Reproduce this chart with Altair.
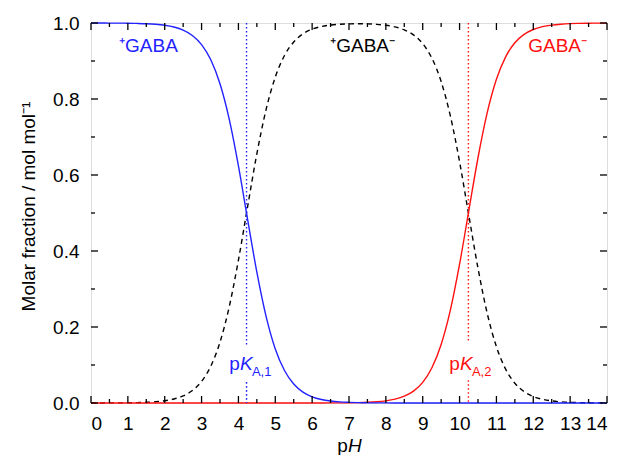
import altair as alt
import pandas as pd

# ---------------- data ----------------
ph = [0.0, 0.25, 0.5, 0.75, 1.0, 1.25, 1.5, 1.75, 2.0, 2.25, 2.5, 2.75, 3.0, 3.25,
      3.5, 3.75, 4.0, 4.25, 4.5, 4.75, 5.0, 5.25, 5.5, 5.75, 6.0, 6.25, 6.5, 6.75,
      7.0, 7.25, 7.5, 7.75, 8.0, 8.25, 8.5, 8.75, 9.0, 9.25, 9.5, 9.75, 10.0, 10.25,
      10.5, 10.75, 11.0, 11.25, 11.5, 11.75, 12.0, 12.25, 12.5, 12.75, 13.0, 13.25,
      13.5, 13.75, 14.0]

cation = [0.9999, 0.9999, 0.9998, 0.9997, 0.9994, 0.9989, 0.9981, 0.9966, 0.9940,
          0.9894, 0.9813, 0.9672, 0.9431, 0.9032, 0.8400, 0.7470, 0.6240, 0.4827,
          0.3442, 0.2279, 0.1423, 0.0854, 0.0499, 0.0287, 0.0163, 0.0092, 0.0052,
          0.0029, 0.0017, 0.0009, 0.0005, 0.0003, 0.0002, 0.0001, 0.0, 0.0, 0.0,
          0.0, 0.0, 0.0, 0.0, 0.0, 0.0, 0.0, 0.0, 0.0, 0.0, 0.0, 0.0, 0.0, 0.0,
          0.0, 0.0, 0.0, 0.0, 0.0, 0.0]

zwitterion = [0.0001, 0.0001, 0.0002, 0.0003, 0.0006, 0.0011, 0.0019, 0.0034, 0.0060,
              0.0106, 0.0187, 0.0328, 0.0569, 0.0968, 0.1600, 0.2530, 0.3760, 0.5173,
              0.6558, 0.7721, 0.8577, 0.9146, 0.9501, 0.9713, 0.9837, 0.9907, 0.9946,
              0.9968, 0.9977, 0.9981, 0.9977, 0.9965, 0.9941, 0.9898, 0.9821, 0.9687,
              0.9456, 0.9072, 0.8460, 0.7555, 0.6348, 0.4942, 0.3546, 0.2360, 0.1481,
              0.0891, 0.0521, 0.0300, 0.0171, 0.0097, 0.0055, 0.0031, 0.0017, 0.0010,
              0.0005, 0.0003, 0.0002]

anion = [0.0, 0.0, 0.0, 0.0, 0.0, 0.0, 0.0, 0.0, 0.0, 0.0, 0.0, 0.0, 0.0, 0.0, 0.0,
         0.0, 0.0, 0.0, 0.0, 0.0, 0.0, 0.0, 0.0, 0.0, 0.0, 0.0001, 0.0002, 0.0003,
         0.0006, 0.0010, 0.0018, 0.0032, 0.0057, 0.0101, 0.0179, 0.0313, 0.0544,
         0.0928, 0.1540, 0.2445, 0.3652, 0.5058, 0.6454, 0.7640, 0.8519, 0.9109,
         0.9479, 0.9700, 0.9829, 0.9903, 0.9945, 0.9969, 0.9983, 0.9990, 0.9995,
         0.9997, 0.9998]

species_names = ["⁺GABA", "⁺GABA⁻", "GABA⁻"]
species_colors = ["#2222ff", "#000000", "#ff1010"]
species_label_x = [1.56, 7.37, 12.66]
species_label_y = [0.924, 0.924, 0.924]

pka_values = [4.22, 10.24]
pka_subscripts = ["A,1", "A,2"]
pka_colors = ["#2222ff", "#ff1010"]
pka_label_x = [4.04, 10.01]
pka_label_y = [0.087, 0.087]
pka_upper_from = [1.0, 1.0]
pka_upper_to = [0.15, 0.16]
pka_lower_from = [0.055, 0.06]

x_major = list(range(0, 15))
x_minor = [0.5, 1.5, 2.5, 3.5, 4.5, 5.5, 6.5, 7.5, 8.5, 9.5, 10.5, 11.5, 12.5, 13.5]
y_major = [0.0, 0.2, 0.4, 0.6, 0.8, 1.0]
y_minor = [0.1, 0.3, 0.5, 0.7, 0.9]

y_title = "Molar fraction / mol mol⁻¹"

# ---------------- layout / style ----------------
W, H = 516, 380
FONT = "Liberation Sans"
FS = 19

xs = alt.Scale(domain=[0, 14], nice=False, zero=False)
ys = alt.Scale(domain=[0, 1], nice=False, zero=False)

x_axis = alt.Axis(values=x_major, format="d", grid=False, domain=False, ticks=False,
                  tickSize=0, labelFont=FONT, labelFontSize=FS, labelColor="black",
                  labelPadding=11, title=None)
y_axis = alt.Axis(values=y_major, format=".1f", grid=False, domain=False, ticks=False,
                  tickSize=0, labelFont=FONT, labelFontSize=FS, labelColor="black",
                  labelPadding=12, title=y_title, titleFont=FONT, titleFontSize=FS,
                  titleFontWeight="normal", titleColor="black", titleX=-57, titleY=183,
                  titleBaseline="alphabetic")

X = lambda f="pH": alt.X(f"{f}:Q", scale=xs, axis=x_axis)
Y = lambda f="frac": alt.Y(f"{f}:Q", scale=ys, axis=y_axis)

curves = pd.DataFrame({
    "pH": ph * 3,
    "frac": cation + zwitterion + anion,
    "species": [species_names[0]] * len(ph) + [species_names[1]] * len(ph)
               + [species_names[2]] * len(ph),
})

def curve(name, color, dash=None):
    kw = dict(color=color, strokeWidth=1.4, interpolate="monotone")
    if dash:
        kw["strokeDash"] = dash
    return (alt.Chart(curves).transform_filter(alt.datum.species == name)
            .mark_line(**kw).encode(x=X(), y=Y(), order="pH:Q"))

black_line = curve(species_names[1], species_colors[1], [5, 4])
red_line = curve(species_names[2], species_colors[2])
blue_line = curve(species_names[0], species_colors[0])

# pKa dotted lines
pka_df = pd.DataFrame({
    "pH": pka_values * 2,
    "y1": pka_upper_from + pka_lower_from,
    "y2": pka_upper_to + [0.0, 0.0],
    "c": pka_colors * 2,
})
pka_lines = alt.Chart(pka_df).mark_rule(strokeWidth=1.4, strokeDash=[1.6, 2.4]).encode(
    x=X(), y=Y("y1"), y2="y2:Q", color=alt.Color("c:N", scale=None))

# species labels
lab_df = pd.DataFrame({"pH": species_label_x, "frac": species_label_y,
                       "t": species_names, "c": species_colors})
labels = alt.Chart(lab_df).mark_text(font=FONT, fontSize=19, align="center",
                                     baseline="alphabetic").encode(
    x=X(), y=Y(), text="t:N", color=alt.Color("c:N", scale=None))

# pK labels: p + italic K + subscript
pk_df = pd.DataFrame({"pH": pka_label_x, "frac": pka_label_y, "sub": pka_subscripts,
                      "c": pka_colors})
pk_base = alt.Chart(pk_df)
pk_p = pk_base.mark_text(text="p", font=FONT, fontSize=FS, align="right",
                         baseline="alphabetic").encode(
    x=X(), y=Y(), color=alt.Color("c:N", scale=None))
pk_k = pk_base.mark_text(text="K", font=FONT, fontSize=FS, fontStyle="italic",
                         align="left", baseline="alphabetic").encode(
    x=X(), y=Y(), color=alt.Color("c:N", scale=None))
pk_sub = pk_base.mark_text(font=FONT, fontSize=13, align="left", baseline="alphabetic",
                           dx=12, dy=6).encode(
    x=X(), y=Y(), text="sub:N", color=alt.Color("c:N", scale=None))

# x-axis title "pH" with italic H
xt_df = pd.DataFrame({"pH": [6.97]})
xt_p = alt.Chart(xt_df).mark_text(text="p", font=FONT, fontSize=FS, align="right",
                                  baseline="alphabetic", color="black").encode(
    x=X(), y=alt.value(429))
xt_h = alt.Chart(xt_df).mark_text(text="H", font=FONT, fontSize=FS, fontStyle="italic",
                                  align="left", baseline="alphabetic", color="black").encode(
    x=X(), y=alt.value(429))

# inward ticks on all four sides
xmaj = pd.DataFrame({"pH": x_major})
xmin = pd.DataFrame({"pH": x_minor})
ymaj = pd.DataFrame({"frac": y_major})
ymin = pd.DataFrame({"frac": y_minor})
tk = dict(color="black", strokeWidth=1.3)
ticks = [
    alt.Chart(xmaj).mark_rule(**tk).encode(x=X(), y=alt.value(H), y2=alt.value(H - 7)),
    alt.Chart(xmin).mark_rule(**tk).encode(x=X(), y=alt.value(H), y2=alt.value(H - 4)),
    alt.Chart(xmaj).mark_rule(**tk).encode(x=X(), y=alt.value(0), y2=alt.value(7)),
    alt.Chart(xmin).mark_rule(**tk).encode(x=X(), y=alt.value(0), y2=alt.value(4)),
    alt.Chart(ymaj).mark_rule(**tk).encode(y=Y(), x=alt.value(0), x2=alt.value(7)),
    alt.Chart(ymin).mark_rule(**tk).encode(y=Y(), x=alt.value(0), x2=alt.value(4)),
    alt.Chart(ymaj).mark_rule(**tk).encode(y=Y(), x=alt.value(W), x2=alt.value(W - 7)),
    alt.Chart(ymin).mark_rule(**tk).encode(y=Y(), x=alt.value(W), x2=alt.value(W - 4)),
]

chart = alt.layer(
    black_line, red_line, blue_line, pka_lines, labels, pk_p, pk_k, pk_sub,
    xt_p, xt_h, *ticks
).properties(
    width=W, height=H,
    autosize=alt.AutoSizeParams(type="none"),
    padding={"left": 83, "top": 15, "right": 5, "bottom": 52},
).configure_view(stroke="black", strokeWidth=1.6).configure(background="white")

chart.save("out.html", embed_options={"renderer": "svg", "actions": False})
